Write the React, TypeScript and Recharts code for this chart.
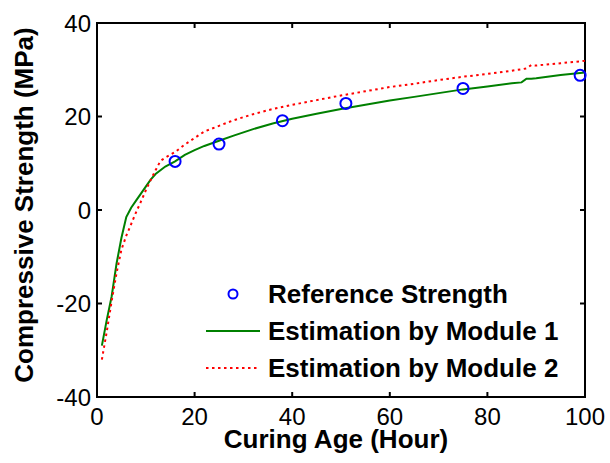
import { ComposedChart, Line, Scatter, XAxis, YAxis } from "recharts";

const xDomain = [0, 100];
const yDomain = [-40, 40];
const xTicks = [0, 20, 40, 60, 80, 100];
const yTicks = [-40, -20, 0, 20, 40];

// measured points
const refHours = [16, 25, 38, 51, 75, 99];
const refStrength = [10.4, 14.1, 19.1, 22.8, 26.0, 28.8];

// model estimates
const modelHours = [1, 2, 3, 4, 5, 6, 7, 8, 9, 10, 11, 12, 13, 14, 16, 18, 20, 22, 25, 28, 32, 36, 40, 45, 50, 55, 60, 65, 70, 75, 80, 85, 87, 88, 89, 90, 95, 100];
const module1 = [-29, -23.5, -18.5, -11.5, -6, -1.5, 0.5, 2, 3.5, 5, 6.5, 7.7, 8.5, 9.3, 10.4, 11.8, 12.8, 13.7, 14.8, 15.9, 17.3, 18.5, 19.5, 20.6, 21.6, 22.5, 23.4, 24.2, 25, 25.8, 26.4, 27.1, 27.3, 28.1, 28.1, 28.2, 28.9, 29.4];
const module2 = [-32, -26, -19.5, -13.5, -8.5, -5.5, -3, -0.5, 1.8, 4.2, 6.4, 8.5, 10.5, 11.2, 12.4, 14.0, 15.4, 16.8, 18, 19.2, 20.5, 21.6, 22.5, 23.5, 24.5, 25.4, 26.3, 27, 27.8, 28.5, 29.1, 29.8, 30.1, 30.3, 31, 30.9, 31.4, 31.9];

const refData = refHours.map((x, i) => ({ x, y: refStrength[i] }));
const m1Data = modelHours.map((x, i) => ({ x, y: module1[i] }));
const m2Data = modelHours.map((x, i) => ({ x, y: module2[i] }));

const W = 610;
const H = 463;
const MARGIN = { top: 23, right: 25, bottom: 26, left: 37 };
const Y_AXIS_W = 60;
const X_AXIS_H = 40;
const TICK = 5;

const font = "'Liberation Sans', Arial, sans-serif";
const tickFont = { fill: "#000", fontSize: 24, fontFamily: font };

// matlab-style box with inward ticks on all four sides
function Frame() {
  const px = MARGIN.left + Y_AXIS_W;
  const py = MARGIN.top;
  const pw = W - px - MARGIN.right;
  const ph = H - MARGIN.top - MARGIN.bottom - X_AXIS_H;
  const sx = (v: number) => px + ((v - xDomain[0]) / (xDomain[1] - xDomain[0])) * pw;
  const sy = (v: number) => py + ph - ((v - yDomain[0]) / (yDomain[1] - yDomain[0])) * ph;
  return (
    <g stroke="#000" strokeWidth={2} fill="none">
      <rect x={px} y={py} width={pw} height={ph} />
      {xTicks.map((t) => (
        <g key={`x${t}`}>
          <line x1={sx(t)} x2={sx(t)} y1={py + ph} y2={py + ph - TICK} />
          <line x1={sx(t)} x2={sx(t)} y1={py} y2={py + TICK} />
        </g>
      ))}
      {yTicks.map((t) => (
        <g key={`y${t}`}>
          <line x1={px} x2={px + TICK} y1={sy(t)} y2={sy(t)} />
          <line x1={px + pw} x2={px + pw - TICK} y1={sy(t)} y2={sy(t)} />
        </g>
      ))}
    </g>
  );
}

const legendRows = [
  { label: "Reference Strength", kind: "circle" },
  { label: "Estimation by Module 1", kind: "solid" },
  { label: "Estimation by Module 2", kind: "dot" },
];

function LegendBox() {
  return (
    <g transform="translate(206, 280)">
      {legendRows.map((r, i) => {
        const cy = 14 + i * 37;
        return (
          <g key={r.label}>
            {r.kind === "circle" && <circle cx={27} cy={cy} r={4.5} fill="none" stroke="#0000ff" strokeWidth={2} />}
            {r.kind === "solid" && <line x1={0} x2={54} y1={cy} y2={cy} stroke="#008000" strokeWidth={2} />}
            {r.kind === "dot" && <line x1={0} x2={54} y1={cy} y2={cy} stroke="#ff0000" strokeWidth={2} strokeDasharray="2.5 3.5" />}
            <text x={62} y={cy + 9} fontFamily={font} fontWeight="bold" fontSize={26} fill="#000">
              {r.label}
            </text>
          </g>
        );
      })}
    </g>
  );
}

export default function App() {
  return (
    <div style={{ position: "absolute", left: 0, top: 0, background: "#fff" }}>
      <ComposedChart width={W} height={H} margin={MARGIN}>
        <XAxis
          xAxisId="b"
          dataKey="x"
          type="number"
          domain={xDomain}
          ticks={xTicks}
          height={X_AXIS_H}
          tickSize={0}
          tickMargin={11}
          axisLine={false}
          tickLine={false}
          tick={tickFont}
        />
        <YAxis
          yAxisId="l"
          type="number"
          domain={yDomain}
          ticks={yTicks}
          width={Y_AXIS_W}
          tickSize={0}
          tickMargin={6}
          axisLine={false}
          tickLine={false}
          tick={tickFont}
        />
        <Frame />
        <Line
          xAxisId="b"
          yAxisId="l"
          data={m1Data}
          dataKey="y"
          type="linear"
          stroke="#008000"
          strokeWidth={2}
          dot={false}
          isAnimationActive={false}
        />
        <Line
          xAxisId="b"
          yAxisId="l"
          data={m2Data}
          dataKey="y"
          type="linear"
          stroke="#ff0000"
          strokeWidth={2}
          strokeDasharray="2.5 3.5"
          dot={false}
          isAnimationActive={false}
        />
        <Scatter
          xAxisId="b"
          yAxisId="l"
          data={refData}
          dataKey="y"
          isAnimationActive={false}
          shape={(p: any) => <circle cx={p.cx} cy={p.cy} r={5.5} fill="none" stroke="#0000ff" strokeWidth={2} />}
        />
        <LegendBox />
        <text x={336} y={448} textAnchor="middle" fontFamily={font} fontWeight="bold" fontSize={26} fill="#000">
          Curing Age (Hour)
        </text>
        <text
          x={33}
          y={205}
          transform="rotate(-90 33 205)"
          textAnchor="middle"
          fontFamily={font}
          fontWeight="bold"
          fontSize={26}
          fill="#000"
        >
          Compressive Strength (MPa)
        </text>
      </ComposedChart>
    </div>
  );
}
